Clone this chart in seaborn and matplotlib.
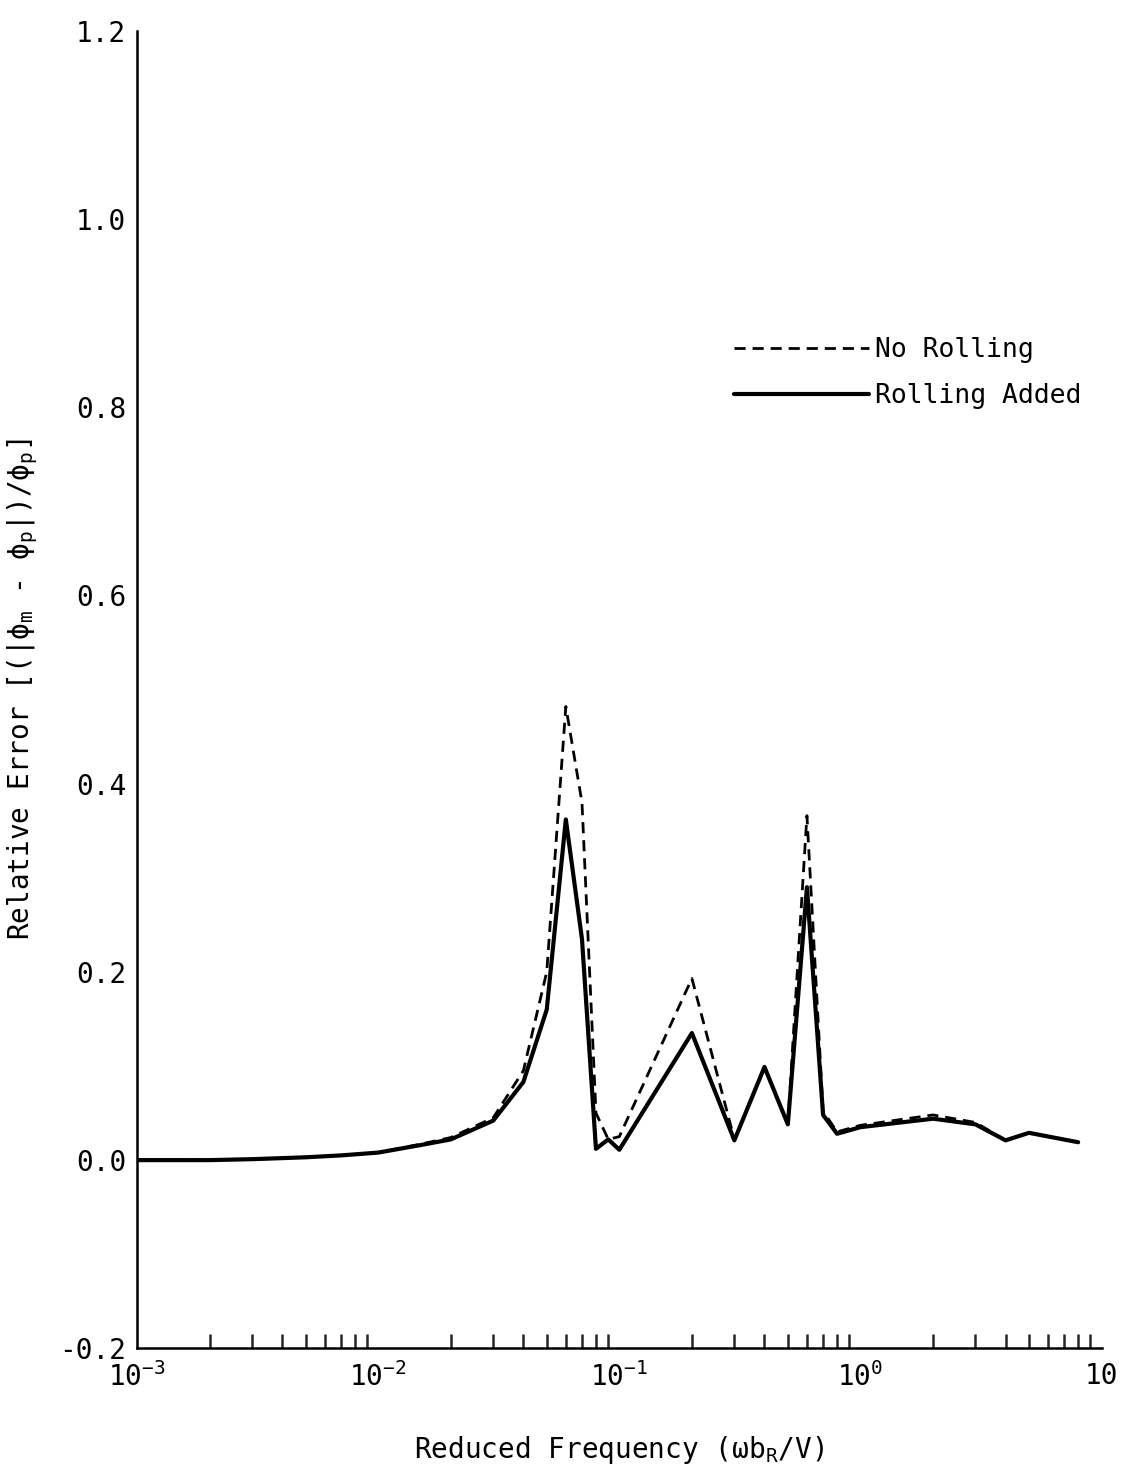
import numpy as np
import pandas as pd
import matplotlib
matplotlib.use("Agg")
import matplotlib.pyplot as plt
import seaborn as sns
from matplotlib.lines import Line2D

# reduced frequency (omega b_R / V)
freq = [0.001, 0.002, 0.003, 0.005, 0.007, 0.01, 0.015, 0.02, 0.03, 0.04,
        0.05, 0.06, 0.07, 0.08, 0.09, 0.1, 0.2, 0.3, 0.4, 0.5,
        0.6, 0.7, 0.8, 1.0, 2.0, 3.0, 4.0, 5.0, 8.0]

no_rolling = [0.0, 0.0, 0.001, 0.003, 0.005, 0.008, 0.017, 0.024, 0.045, 0.095,
              0.2, 0.482, 0.38, 0.05, 0.022, 0.025, 0.193, 0.022, 0.099, 0.038,
              0.366, 0.052, 0.03, 0.037, 0.048, 0.04, 0.021, 0.029, 0.019]

rolling_added = [0.0, 0.0, 0.001, 0.003, 0.005, 0.008, 0.016, 0.022, 0.042, 0.083,
                 0.16, 0.362, 0.235, 0.012, 0.022, 0.011, 0.135, 0.021, 0.099, 0.038,
                 0.29, 0.048, 0.028, 0.035, 0.044, 0.038, 0.021, 0.029, 0.019]

yticks = [-0.2, 0.0, 0.2, 0.4, 0.6, 0.8, 1.0, 1.2]
xticks = [1e-3, 1e-2, 1e-1, 1e0, 1e1]
xticklabels = [r"$10^{-3}$", r"$10^{-2}$", r"$10^{-1}$", r"$10^{0}$", "10"]

df = pd.DataFrame({
    "freq": freq * 2,
    "err": no_rolling + rolling_added,
    "case": ["No Rolling"] * len(freq) + ["Rolling Added"] * len(freq),
})

sns.set_style("white")
plt.rcParams["font.family"] = ["DejaVu Sans Mono", "DejaVu Sans"]
plt.rcParams["mathtext.fontset"] = "dejavusans"
plt.rcParams["mathtext.default"] = "regular"

fig = plt.figure(figsize=(11.24, 14.64), dpi=100)
ax = fig.add_axes([0.122, 0.079, 0.858, 0.9])

sns.lineplot(data=df, x="freq", y="err", hue="case", style="case",
             palette=["black", "black"],
             dashes={"No Rolling": (4, 2.5), "Rolling Added": ""},
             size="case", sizes={"No Rolling": 2.0, "Rolling Added": 3.0},
             legend=False, ax=ax)

ax.set_xscale("log")
ax.set_xlim(1e-3, 10)
ax.set_ylim(-0.2, 1.2)
ax.set_xticks(xticks)
ax.set_xticklabels(xticklabels)
ax.set_yticks(yticks)
ax.set_yticklabels([f"{v:.1f}" for v in yticks])
ax.xaxis.set_minor_locator(matplotlib.ticker.LogLocator(base=10, subs=np.arange(2, 10)))
ax.xaxis.set_minor_formatter(matplotlib.ticker.NullFormatter())

for s in ["top", "right"]:
    ax.spines[s].set_visible(False)
for s in ["left", "bottom"]:
    ax.spines[s].set_linewidth(1.8)
    ax.spines[s].set_color("black")

ax.tick_params(axis="both", which="major", direction="in", length=16, width=1.8,
               labelsize=20, colors="black", pad=8)
ax.tick_params(axis="x", which="minor", direction="in", length=10, width=1.8,
               bottom=True)
ax.tick_params(axis="x", which="major", length=20, pad=10)

ax.set_xlabel(r"Reduced Frequency ($\omega$b$_R$/V)", fontsize=20,
              labelpad=30, color="black")
ax.set_ylabel(r"Relative Error [(|$\phi_m$ - $\phi_p$|)/$\phi_p$]", fontsize=20,
              labelpad=14, color="black")

# legend drawn with hand-made handles
handles = [Line2D([], [], color="black", lw=2.0, dashes=(4, 2.5)),
           Line2D([], [], color="black", lw=3.0)]
fig.legend(handles, ["No Rolling", "Rolling Added"], loc="upper left",
           bbox_to_anchor=(0.632, 0.786), frameon=False, fontsize=19,
           handlelength=5.1, handletextpad=0.25, labelspacing=0.75,
           labelcolor="black")

fig.savefig("out.png", dpi=100)
